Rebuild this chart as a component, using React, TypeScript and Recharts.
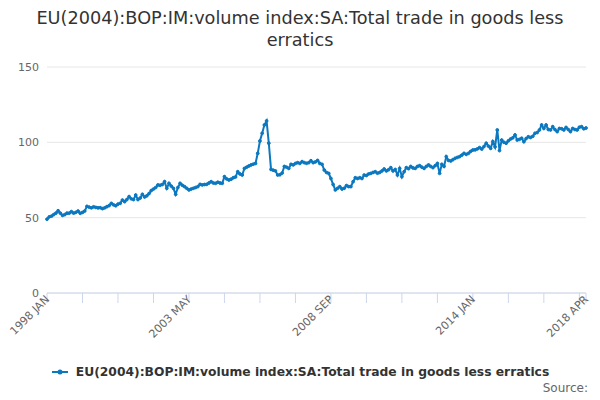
import { LineChart, Line, XAxis, YAxis, CartesianGrid } from "recharts";

const SERIES_NAME = "EU(2004):BOP:IM:volume index:SA:Total trade in goods less erratics";
const TITLE_LINES = ["EU(2004):BOP:IM:volume index:SA:Total trade in goods less", "erratics"];
const MONTH_NAMES = ["JAN", "FEB", "MAR", "APR", "MAY", "JUN", "JUL", "AUG", "SEP", "OCT", "NOV", "DEC"];
const YEARS = [1998, 1999, 2000, 2001, 2002, 2003, 2004, 2005, 2006, 2007, 2008, 2009, 2010, 2011, 2012, 2013, 2014, 2015, 2016, 2017, 2018];

// monthly index values, one array per year
const v1998 = [49, 50.5, 51, 52, 53, 54.6, 53, 51.5, 52, 53, 53, 54];
const v1999 = [53, 53.5, 54.4, 52.9, 53.5, 54.4, 57.5, 57, 56.5, 57.2, 56.8, 56.5];
const v2000 = [56.6, 56, 56.5, 57.3, 58, 59.5, 58.5, 57.9, 59, 59.5, 61.7, 60.6];
const v2001 = [62, 64, 62.5, 62, 65, 62, 63, 65.5, 63.7, 64.5, 66, 68];
const v2002 = [69, 70, 71.7, 71.5, 72, 73.9, 69.5, 72.8, 71, 69.5, 65.5, 70];
const v2003 = [72.8, 71.5, 70.6, 69.5, 68.4, 69, 69.5, 70, 70.6, 72.1, 71.7, 72];
const v2004 = [72.1, 73, 73.9, 73, 72.8, 73.5, 73, 72.8, 77.2, 75.7, 75, 75.5];
const v2005 = [76.5, 77, 80.5, 79, 78.3, 82.7, 83.5, 84.3, 85, 85.5, 86, 92.7];
const v2006 = [100.9, 106, 111.5, 114.2, 99.4, 82, 81.5, 81, 78.3, 78.5, 79.6, 84];
const v2007 = [83.5, 82.7, 85.4, 85, 86, 86.5, 86, 87.2, 86.5, 86.1, 86.5, 87.8];
const v2008 = [86.5, 87, 88, 86, 85.4, 81.6, 80, 79.4, 76, 72, 68.4, 69.5];
const v2009 = [70.6, 69, 69.5, 71.3, 70.6, 70.6, 73.9, 76.5, 76, 76.5, 76, 78.3];
const v2010 = [78, 79, 79.4, 80, 80.5, 79.5, 80, 81, 82.3, 81, 81.8, 83.2];
const v2011 = [81, 82, 78.3, 82.7, 77.2, 80.5, 83.2, 82.5, 84, 83, 82.7, 84];
const v2012 = [84.5, 83.5, 82.7, 84, 85, 84, 83.2, 84.5, 86, 79.4, 85.4, 84];
const v2013 = [90.5, 88, 87.6, 88.5, 89.4, 90, 90.5, 91.5, 92.7, 92, 92.7, 94];
const v2014 = [94.9, 95, 95.6, 96.5, 95.5, 97.2, 99.4, 97.5, 96, 100.5, 97, 108.2];
const v2015 = [94.5, 101.5, 100, 99.4, 101, 102.2, 103, 104.9, 101.5, 102, 102.7, 100.4];
const v2016 = [102.5, 103.7, 103.2, 104, 106, 106.5, 108.2, 111.5, 109.2, 111.5, 108.5, 108.2];
const v2017 = [110.4, 108.5, 107.1, 109.2, 109, 108.2, 109.9, 108.5, 107.1, 109.2, 108.5, 108.2];
const v2018 = [110, 110.4, 109, 109.5];

const values = [
  ...v1998, ...v1999, ...v2000, ...v2001, ...v2002, ...v2003, ...v2004,
  ...v2005, ...v2006, ...v2007, ...v2008, ...v2009, ...v2010, ...v2011,
  ...v2012, ...v2013, ...v2014, ...v2015, ...v2016, ...v2017, ...v2018,
];

const monthLabels = YEARS.flatMap((y) => MONTH_NAMES.map((m) => `${y} ${m}`)).slice(0, values.length);

const xTicks = [0, 16, 32, 48, 64, 80, 96, 112, 128, 144, 160, 176, 192, 208, 224, 240, 243];
const labelledTicks = [0, 64, 128, 192, 243];
const yTicks = [0, 50, 100, 150];

const COLOR = "#0b78c0";
const FONT = "'DejaVu Sans', sans-serif";

const data = values.map((v, i) => ({ idx: i, month: monthLabels[i], value: v }));

function XTick(props: any) {
  const { x, payload } = props;
  const i = payload.value;
  if (!labelledTicks.includes(i)) return null;
  const tx = x + 3;
  const ty = 300;
  return (
    <text
      x={tx}
      y={ty}
      transform={`rotate(-45, ${tx}, ${ty})`}
      textAnchor="end"
      fontSize={11}
      fill="#666666"
      fontFamily={FONT}
    >
      {monthLabels[i]}
    </text>
  );
}

export default function App() {
  return (
    <div style={{ position: "absolute", left: 0, top: 0, width: 600, height: 400, fontFamily: FONT, background: "#fff" }}>
      <div
        style={{
          position: "absolute",
          top: 7,
          left: 0,
          width: 600,
          textAlign: "center",
          fontSize: 17.7,
          lineHeight: "22px",
          color: "#333333",
        }}
      >
        {TITLE_LINES.map((t) => (
          <div key={t}>{t}</div>
        ))}
      </div>
      <LineChart
        width={600}
        height={400}
        data={data}
        margin={{ top: 67, right: 14, bottom: 67, left: 0 }}
      >
        <CartesianGrid vertical={false} stroke="#e6e6e6" />
        <XAxis
          type="number"
          dataKey="idx"
          domain={[0, 243]}
          ticks={xTicks}
          interval={0}
          height={40}
          tickSize={10}
          axisLine={{ stroke: "#ccd6eb" }}
          tickLine={{ stroke: "#ccd6eb" }}
          tick={<XTick />}
        />
        <YAxis
          domain={[0, 150]}
          ticks={yTicks}
          width={47}
          axisLine={false}
          tickLine={false}
          tick={{ fontSize: 11, fill: "#666666", fontFamily: FONT }}
        />
        <Line
          type="linear"
          dataKey="value"
          stroke={COLOR}
          strokeWidth={2}
          dot={{ r: 1.4, fill: COLOR, stroke: COLOR, strokeWidth: 1 }}
          isAnimationActive={false}
        />
      </LineChart>
      <div
        style={{
          position: "absolute",
          top: 364,
          left: 0,
          width: 600,
          display: "flex",
          justifyContent: "center",
          alignItems: "center",
          fontSize: 12.3,
          fontWeight: "bold",
          color: "#333333",
        }}
      >
        <svg width={21} height={16} style={{ marginRight: 4 }}>
          <line x1={1} y1={8} x2={17} y2={8} stroke={COLOR} strokeWidth={2} />
          <circle cx={9} cy={8} r={2.5} fill={COLOR} />
        </svg>
        <span>{SERIES_NAME}</span>
      </div>
      <div
        style={{
          position: "absolute",
          top: 381,
          right: 12,
          fontSize: 12,
          color: "#666666",
        }}
      >
        Source:
      </div>
    </div>
  );
}
